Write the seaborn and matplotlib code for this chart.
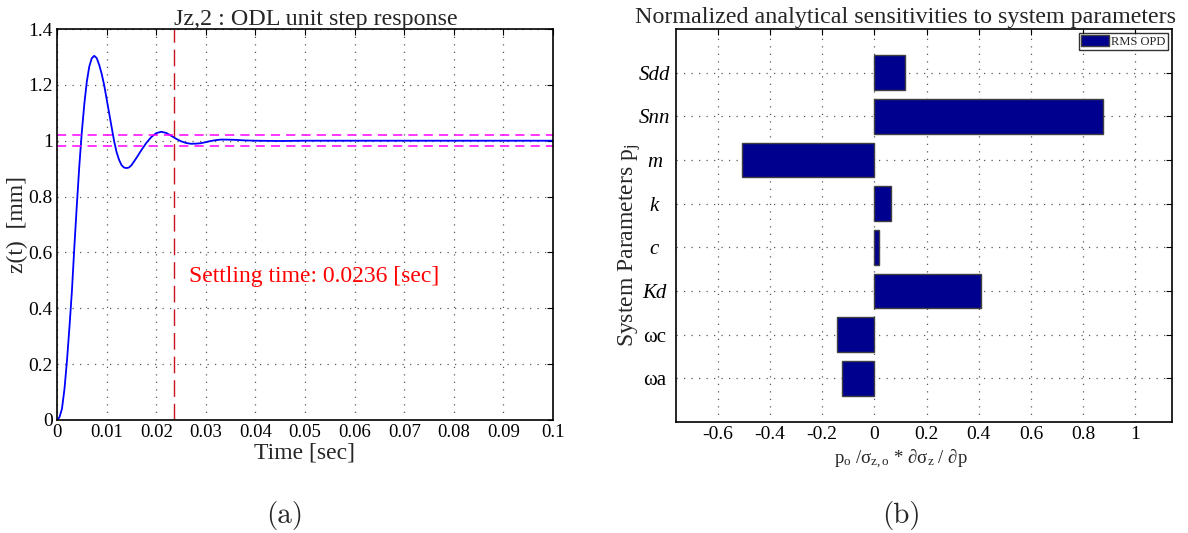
import matplotlib
matplotlib.use("Agg")
import matplotlib.pyplot as plt
from matplotlib.patches import Patch
import numpy as np
import pandas as pd
import seaborn as sns

# ---- step response of the ODL loop (time in s, displacement in mm) ----
time_s = [0, 0.0005, 0.001, 0.0015, 0.002, 0.0025, 0.003, 0.0035, 0.004, 0.0045,
          0.005, 0.0055, 0.006, 0.0065, 0.007, 0.0075, 0.008, 0.0085, 0.009, 0.0095,
          0.010, 0.0105, 0.011, 0.0115, 0.012, 0.0125, 0.013, 0.0135, 0.014, 0.0145,
          0.015, 0.016, 0.017, 0.018, 0.019, 0.020, 0.021, 0.022, 0.023, 0.024,
          0.025, 0.026, 0.027, 0.028, 0.029, 0.030, 0.031, 0.032, 0.033, 0.034,
          0.036, 0.038, 0.040, 0.045, 0.050, 0.060, 0.080, 0.100]
z_mm = [0.0, 0.01, 0.04, 0.11, 0.21, 0.33, 0.46, 0.62, 0.77, 0.91,
        1.03, 1.13, 1.21, 1.265, 1.295, 1.304, 1.296, 1.272, 1.24, 1.20,
        1.15, 1.10, 1.05, 1.00, 0.96, 0.932, 0.913, 0.904, 0.902, 0.904,
        0.912, 0.938, 0.966, 0.992, 1.013, 1.027, 1.032, 1.028, 1.018, 1.007,
        0.998, 0.992, 0.989, 0.9895, 0.991, 0.995, 0.999, 1.002, 1.004, 1.004,
        1.003, 1.001, 1.0, 0.999, 1.0, 1.0, 1.0, 1.0]
settling_time = 0.0236
band_upper = 1.02
band_lower = 0.98

# ---- normalized sensitivities of RMS OPD ----
params = ["Sdd", "Snn", "m", "k", "c", "Kd", "ωc", "ωa"]
sensitivity = [0.119, 0.875, -0.506, 0.062, 0.016, 0.41, -0.142, -0.123]
italic_params = {"Sdd", "Snn", "m", "k", "c", "Kd"}

sns.set_theme(style="white")
plt.rcParams["font.family"] = ["Liberation Serif", "DejaVu Serif"]
plt.rcParams["mathtext.fontset"] = "custom"
plt.rcParams["mathtext.rm"] = "Liberation Serif"
plt.rcParams["mathtext.it"] = "Liberation Serif:italic"

W, H = 1188, 533
fig = plt.figure(figsize=(W / 100, H / 100), dpi=100)
fig.patch.set_facecolor("white")


def box(l, r, t, b):
    return [l / W, 1 - b / H, (r - l) / W, (b - t) / H]


ax1 = fig.add_axes(box(57, 553, 29, 420))
ax2 = fig.add_axes(box(676, 1172, 29, 422))

grid_kw = dict(color="0.35", linestyle=(0, (1, 5)), linewidth=0.9)

for ax in (ax1, ax2):
    ax.set_facecolor("white")
    for s in ax.spines.values():
        s.set_color("black")
        s.set_linewidth(1.2)
    ax.tick_params(direction="in", top=True, right=True, length=4,
                   width=0.8, colors="black", labelsize=14, pad=3)

# ---- (a) step response ----
df_step = pd.DataFrame({"t": time_s, "z": z_mm})
sns.lineplot(data=df_step, x="t", y="z", ax=ax1, color="blue", linewidth=1.3)
ax1.axhline(band_upper, color="magenta", linestyle=(0, (6, 4)), linewidth=1.1)
ax1.axhline(band_lower, color="magenta", linestyle=(0, (6, 4)), linewidth=1.1)
ax1.axvline(settling_time, color="#c8141e", linestyle=(0, (12, 5)), linewidth=1.0)
ax1.text(settling_time + 0.003, 0.515, f"Settling time: {settling_time} [sec]",
         color="red", fontsize=17, va="center", ha="left")
ax1.set_xlim(0, 0.1)
ax1.set_ylim(0, 1.4)
ax1.set_xticks(np.arange(0, 0.1001, 0.01))
ax1.set_xticklabels(["0"] + [f"{v:.2f}" for v in np.arange(0.01, 0.0951, 0.01)] + ["0.1"])
ax1.set_yticks(np.arange(0, 1.401, 0.2))
ax1.set_yticklabels(["0", "0.2", "0.4", "0.6", "0.8", "1", "1.2", "1.4"])
ax1.tick_params(axis="x", labelsize=13.5)
ax1.grid(True, **grid_kw)
ax1.set_axisbelow(True)
ax1.set_xlabel("Time [sec]", fontsize=17, labelpad=1)
ax1.set_ylabel("z(t)  [mm]", fontsize=17)
ax1.yaxis.set_label_coords(-0.058, 0.5)
ax1.set_title("Jz,2 : ODL unit step response", fontsize=17.3, pad=3, x=0.522)

# ---- (b) sensitivities ----
df_sens = pd.DataFrame({"param": params, "value": sensitivity})
sns.barplot(data=df_sens, x="value", y="param", orient="h", ax=ax2,
            color="#00008f", saturation=1, width=0.8,
            edgecolor="0.25", linewidth=1.0)
ax2.set_xlim(-0.76, 1.14)
ax2.set_ylim(len(params), -1)
ax2.set_xticks([-0.6, -0.4, -0.2, 0, 0.2, 0.4, 0.6, 0.8, 1])
ax2.set_xticklabels(["-0.6", "-0.4", "-0.2", "0", "0.2", "0.4", "0.6", "0.8", "1"])
ax2.tick_params(axis="y", pad=15.5)
for lbl in ax2.get_yticklabels():
    lbl.set_fontstyle("italic" if lbl.get_text() in italic_params else "normal")
    lbl.set_fontsize(15)
    lbl.set_horizontalalignment("center")
ax2.grid(True, **grid_kw)
ax2.set_axisbelow(True)
ax2.set_xlabel(r"p$_\mathrm{o}$ /σ$_\mathrm{z,o}$ * ∂σ$_\mathrm{z}$ / ∂p",
               fontsize=13.5, labelpad=1)
ax2.xaxis.set_label_coords(0.454, -0.065)
ax2.set_ylabel(r"System Parameters p$_\mathrm{j}$", fontsize=17)
ax2.yaxis.set_label_coords(-0.0665, 0.45)
ax2.set_title("Normalized analytical sensitivities to system parameters",
              fontsize=17.3, pad=4, x=0.462)
leg = ax2.legend(handles=[Patch(facecolor="#00008f", edgecolor="0.25", label="RMS OPD")],
                 loc="upper right", fontsize=9, frameon=True, fancybox=False,
                 handlelength=2.2, handleheight=0.9, borderpad=0.2,
                 handletextpad=0.2, borderaxespad=0.3)
leg.get_frame().set_edgecolor("black")
leg.get_frame().set_linewidth(1.0)

# ---- panel captions ----
fig.text(285 / W, 1 - 515 / H, "(a)", fontsize=21, family="cmr10", ha="center", va="center")
fig.text(901 / W, 1 - 515 / H, "(b)", fontsize=21, family="cmr10", ha="center", va="center")

fig.savefig("out.png", dpi=100, facecolor="white")
